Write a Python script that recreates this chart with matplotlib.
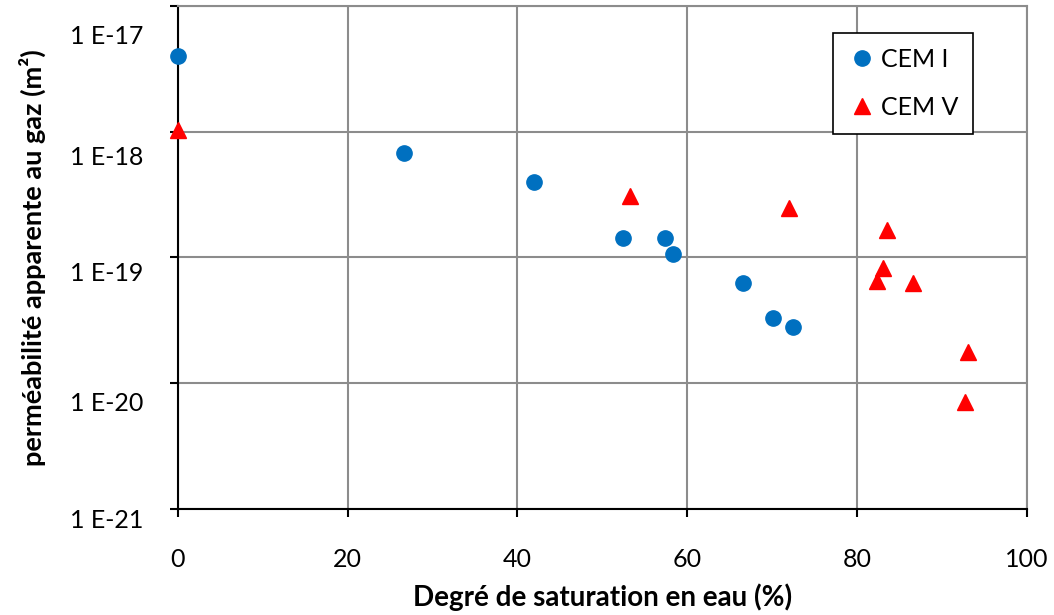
import matplotlib
matplotlib.use('Agg')
import matplotlib.pyplot as plt
import numpy as np
from matplotlib import transforms
from matplotlib.ticker import FuncFormatter

# Data
cem1_sat = [0.0, 26.6, 42.0, 52.4, 57.4, 58.3, 66.6, 70.1, 72.4]
cem1_perm = [4.0e-18, 6.8e-19, 4.0e-19, 1.43e-19, 1.42e-19, 1.07e-19, 6.25e-20, 3.27e-20, 2.8e-20]
cem5_sat = [0.0, 53.3, 72.0, 83.5, 83.0, 82.3, 86.6, 93.1, 92.7]
cem5_perm = [1.04e-18, 3.09e-19, 2.49e-19, 1.65e-19, 8.2e-20, 6.46e-20, 6.3e-20, 1.77e-20, 7.1e-21]

x_ticks = [0, 20, 40, 60, 80, 100]
y_ticks = [1e-21, 1e-20, 1e-19, 1e-18, 1e-17]
# Excel puts the log labels a bit below their gridlines (pixels)
y_label_drop = [10, 18, 14, 24, 28]

blue = '#0070C0'
red = '#FF0000'
grid_col = '#8C8C8C'
font_size = 18
label_size = 20

plt.rcParams['font.family'] = ['Lato', 'DejaVu Sans']

fig = plt.figure(figsize = (10.54, 6.15), dpi = 100)
ax = fig.add_axes([0.1686, 0.1728, 0.9744 - 0.1686, 0.9902 - 0.1728])

ax.plot(cem1_sat, cem1_perm, linestyle = 'none', marker = 'o', markersize = 11,
        color = blue, label = 'CEM I', zorder = 3, clip_on = False)
ax.plot(cem5_sat, cem5_perm, linestyle = 'none', marker = '^', markersize = 12,
        color = red, label = 'CEM V', zorder = 3, clip_on = False)

ax.set_yscale('log')
ax.set_xlim(0, 100)
ax.set_ylim(1e-21, 1e-17)
ax.set_xticks(x_ticks)
ax.set_yticks(y_ticks)
ax.yaxis.set_minor_locator(matplotlib.ticker.NullLocator())
ax.yaxis.set_major_formatter(FuncFormatter(lambda v, p: '1 E%d' % round(np.log10(v))))

ax.grid(True, color = grid_col, linewidth = 1.5, zorder = 0)
ax.set_axisbelow(True)
for side in ['top', 'right']:
    ax.spines[side].set_color(grid_col)
    ax.spines[side].set_linewidth(1.5)
for side in ['left', 'bottom']:
    ax.spines[side].set_color('black')
    ax.spines[side].set_linewidth(1.5)

ax.tick_params(axis = 'both', direction = 'out', length = 6, width = 1.5,
               labelsize = font_size, colors = 'black')
ax.tick_params(axis = 'x', pad = 22)
ax.tick_params(axis = 'y', pad = 19)

for lab, drop in zip(ax.get_yticklabels(), y_label_drop):
    lab.set_transform(lab.get_transform() +
                      transforms.ScaledTranslation(0, -drop / 100, fig.dpi_scale_trans))

ax.set_xlabel('Degré de saturation en eau (%)', fontsize = label_size, fontweight = 'bold', labelpad = 9)
ax.set_ylabel('perméabilité apparente au gaz (m²)', fontsize = label_size - 0.5, fontweight = 'bold', labelpad = 17)

leg = ax.legend(loc = 'upper left', bbox_to_anchor = (0.7716, 0.947), borderaxespad = 0,
                fontsize = font_size, frameon = True, fancybox = False, edgecolor = 'black',
                framealpha = 1, handletextpad = 0.2, handlelength = 1.1, labelspacing = 1.0,
                borderpad = 0.6)
leg.get_frame().set_linewidth(1.2)

fig.savefig('out.png', dpi = 100)
